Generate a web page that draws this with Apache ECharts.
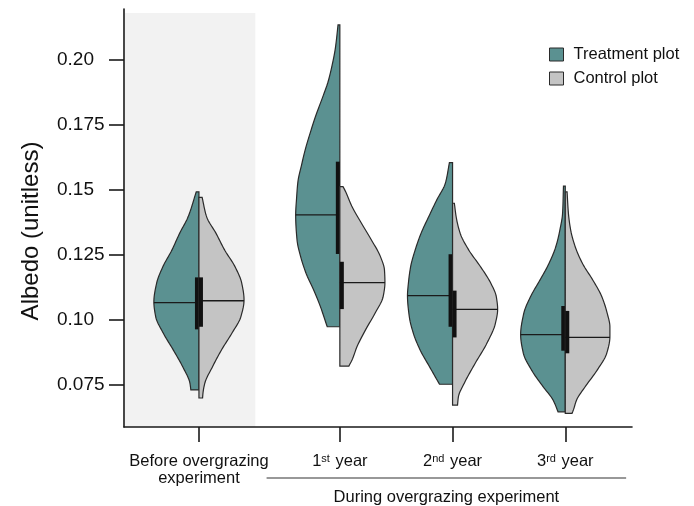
<!DOCTYPE html>
<html>
<head>
<meta charset="utf-8">
<script src="https://cdn.jsdelivr.net/npm/echarts@6/dist/echarts.min.js"></script>
<style>
html,body{margin:0;padding:0;background:#fff;}
#chart{width:694px;height:506px;}
</style>
</head>
<body>
<div id="chart"></div>
<script>
// ---------- data ----------
const categories = ['Before overgrazing\nexperiment', '1st year', '2nd year', '3rd year'];
const categoryPos = [0, 1.25, 2.25, 3.25];
const seriesNames = ['Treatment plot', 'Control plot'];
const yTicks = [0.075, 0.10, 0.125, 0.15, 0.175, 0.20];

// density profiles (albedo value, relative half-width)
const treatmentY = [
  [0.1493, 0.1397, 0.1333, 0.1269, 0.1205, 0.1141, 0.1070, 0.1013, 0.0949, 0.0885, 0.0820, 0.0757, 0.0731],
  [0.2135, 0.2045, 0.1981, 0.1917, 0.1853, 0.1788, 0.1724, 0.1660, 0.1596, 0.1532, 0.1468, 0.1404, 0.1308, 0.1244, 0.1180, 0.1115, 0.1051, 0.0974],
  [0.1605, 0.1526, 0.1462, 0.1397, 0.1333, 0.1269, 0.1205, 0.1141, 0.1094, 0.1013, 0.0949, 0.0885, 0.0820, 0.0753],
  [0.1515, 0.1410, 0.1346, 0.1282, 0.1218, 0.1154, 0.1090, 0.1026, 0.0944, 0.0872, 0.0808, 0.0743, 0.0692, 0.0647]
];
const treatmentDensity = [
  [0.06, 0.24, 0.43, 0.60, 0.80, 0.94, 1.00, 0.96, 0.79, 0.57, 0.36, 0.20, 0.18],
  [0.04, 0.10, 0.17, 0.26, 0.39, 0.53, 0.65, 0.76, 0.85, 0.93, 0.96, 0.98, 0.95, 0.87, 0.75, 0.58, 0.43, 0.28],
  [0.07, 0.16, 0.35, 0.53, 0.70, 0.83, 0.93, 0.98, 1.00, 0.96, 0.87, 0.72, 0.51, 0.29],
  [0.04, 0.06, 0.12, 0.21, 0.36, 0.56, 0.77, 0.92, 0.99, 0.93, 0.75, 0.49, 0.27, 0.16]
];
const controlY = [
  [0.1472, 0.1397, 0.1333, 0.1269, 0.1205, 0.1141, 0.1077, 0.1013, 0.0949, 0.0885, 0.0820, 0.0757, 0.0720, 0.0700],
  [0.1513, 0.1500, 0.1436, 0.1372, 0.1308, 0.1244, 0.1192, 0.1144, 0.1090, 0.1026, 0.0962, 0.0897, 0.0846, 0.0823],
  [0.1449, 0.1397, 0.1333, 0.1269, 0.1205, 0.1141, 0.1090, 0.1041, 0.0987, 0.0910, 0.0833, 0.0757, 0.0705, 0.0673],
  [0.1493, 0.1410, 0.1346, 0.1282, 0.1218, 0.1154, 0.1090, 0.1026, 0.0974, 0.0936, 0.0872, 0.0808, 0.0743, 0.0692, 0.0654, 0.0641]
];
const controlDensity = [
  [0.07, 0.17, 0.38, 0.57, 0.80, 0.95, 1.00, 0.93, 0.73, 0.50, 0.30, 0.13, 0.09, 0.08],
  [0.07, 0.11, 0.27, 0.48, 0.70, 0.90, 0.99, 1.00, 0.96, 0.78, 0.57, 0.38, 0.27, 0.20],
  [0.04, 0.08, 0.17, 0.36, 0.62, 0.85, 0.97, 1.00, 0.95, 0.76, 0.50, 0.26, 0.13, 0.11],
  [0.04, 0.07, 0.12, 0.22, 0.38, 0.61, 0.81, 0.93, 0.99, 0.99, 0.92, 0.71, 0.44, 0.25, 0.18, 0.15]
];
const treatmentMedian = [0.1067, 0.1404, 0.1094, 0.0944];
const controlMedian   = [0.1074, 0.1144, 0.1041, 0.0933];
const treatmentQ1 = [0.0964, 0.1254, 0.0974, 0.0882];
const treatmentQ3 = [0.1164, 0.1609, 0.1253, 0.1054];
const controlQ1   = [0.0974, 0.1042, 0.0933, 0.0872];
const controlQ3   = [0.1164, 0.1224, 0.1113, 0.1035];

// ---------- layout / style ----------
const FONT = '"Liberation Sans", Arial, Helvetica, sans-serif';
const xMin = -0.665, xMax = 3.842;
const yMin = 0.05885, yMax = 0.21962;
const halfWidth = 0.40;     // x-units for relative density 1
const boxPx = 4;
const tealColor = '#5b9191';
const greyColor = '#c4c4c4';
const outline = '#2a2a2a';

// monotone cubic (Fritsch-Carlson) evaluation of w(y) for smooth drawing
function monotoneSampler(xs, ys) {
  const n = xs.length;
  const d = [], m = new Array(n);
  for (let i = 0; i < n - 1; i++) d.push((ys[i + 1] - ys[i]) / (xs[i + 1] - xs[i]));
  m[0] = d[0]; m[n - 1] = d[n - 2];
  for (let i = 1; i < n - 1; i++) {
    if (d[i - 1] * d[i] <= 0) m[i] = 0;
    else {
      const h0 = xs[i] - xs[i - 1], h1 = xs[i + 1] - xs[i];
      const w1 = 2 * h1 + h0, w2 = h1 + 2 * h0;
      m[i] = (w1 + w2) / (w1 / d[i - 1] + w2 / d[i]);
    }
  }
  return function (x) {
    let k = 0;
    while (k < n - 2 && x > xs[k + 1]) k++;
    const h = xs[k + 1] - xs[k];
    const t = Math.min(Math.max((x - xs[k]) / h, 0), 1);
    const t2 = t * t, t3 = t2 * t;
    return (2 * t3 - 3 * t2 + 1) * ys[k] + (t3 - 2 * t2 + t) * h * m[k] +
           (-2 * t3 + 3 * t2) * ys[k + 1] + (t3 - t2) * h * m[k + 1];
  };
}

function makeRenderer(side, Ys, Ds, med, q1, q3, color) {
  return function (params, api) {
    const i = api.value(2);
    const cx = categoryPos[i];
    const Y = Ys[i].slice().reverse(), D = Ds[i].slice().reverse();
    const f = monotoneSampler(Y, D);
    const yLo = Y[0], yHi = Y[Y.length - 1];
    const N = 120;
    const curve = [];
    for (let s = N; s >= 0; s--) {
      const v = yLo + (yHi - yLo) * s / N;
      curve.push(api.coord([cx + side * Math.max(f(v), 0) * halfWidth, v]));
    }
    const top = api.coord([cx, yHi]);
    const bot = api.coord([cx, yLo]);
    const poly = [top].concat(curve).concat([bot]);
    const mw = f(med[i]);
    const m0 = api.coord([cx, med[i]]);
    const m1 = api.coord([cx + side * mw * halfWidth, med[i]]);
    const b3 = api.coord([cx, q3[i]]);
    const b1 = api.coord([cx, q1[i]]);
    const bx = side > 0 ? b3[0] : b3[0] - boxPx;
    return {
      type: 'group',
      children: [
        { type: 'polygon', shape: { points: poly }, style: { fill: color, stroke: outline, lineWidth: 1.2 } },
        { type: 'line', shape: { x1: m0[0], y1: m0[1], x2: m1[0], y2: m1[1] }, style: { stroke: '#1a1a1a', lineWidth: 1.3 } },
        { type: 'rect', shape: { x: bx, y: b3[1], width: boxPx, height: b1[1] - b3[1] }, style: { fill: '#111' } }
      ]
    };
  };
}

const chart = echarts.init(document.getElementById('chart'), null, { renderer: 'canvas' });

const supRich = {
  n: { fontSize: 16.5, fontFamily: FONT, color: '#111', lineHeight: 17, verticalAlign: 'bottom' },
  s: { fontSize: 11, fontFamily: FONT, color: '#111', lineHeight: 17, verticalAlign: 'top', padding: [0, 1, 6, 0] }
};

const option = {
  animation: false,
  backgroundColor: '#ffffff',
  grid: { left: 124, right: 62, top: 9, bottom: 79, containLabel: false },
  legend: {
    orient: 'vertical', left: 544, top: 41,
    itemWidth: 14, itemHeight: 13, itemGap: 7,
    selectedMode: false,
    textStyle: { fontSize: 16.5, fontFamily: FONT, color: '#111', lineHeight: 16, padding: [0, 0, 0, 5] },
    data: [
      { name: seriesNames[0], icon: 'rect', itemStyle: { color: tealColor, borderColor: outline, borderWidth: 1 } },
      { name: seriesNames[1], icon: 'rect', itemStyle: { color: greyColor, borderColor: outline, borderWidth: 1 } }
    ]
  },
  xAxis: {
    type: 'value', min: xMin, max: xMax,
    splitLine: { show: false },
    axisLine: { show: true, onZero: false, lineStyle: { color: '#1a1a1a', width: 1.6 } },
    axisTick: { show: true, customValues: categoryPos, length: 15, lineStyle: { color: '#1a1a1a', width: 1.6 } },
    axisLabel: {
      customValues: categoryPos, margin: 26, color: '#111', fontSize: 16.5, fontFamily: FONT, lineHeight: 17,
      formatter: function (v) {
        let idx = -1;
        categoryPos.forEach((p, k) => { if (Math.abs(p - v) < 1e-6) idx = k; });
        if (idx < 0) return '';
        const lab = categories[idx];
        const m = lab.match(/^(\d)(st|nd|rd|th) (.*)$/);
        if (m) return '{n|' + m[1] + '}{s|' + m[2] + '}{n| ' + m[3] + '}';
        return lab;
      },
      rich: supRich
    }
  },
  yAxis: {
    type: 'value', min: yMin, max: yMax,
    name: 'Albedo (unitless)', nameLocation: 'middle', nameGap: 81,
    nameTextStyle: { fontSize: 24, fontFamily: FONT, color: '#111', padding: [0, 26, 0, 0] },
    splitLine: { show: false },
    axisLine: { show: true, onZero: false, lineStyle: { color: '#1a1a1a', width: 1.6 } },
    axisTick: { show: true, customValues: yTicks, length: 15, lineStyle: { color: '#1a1a1a', width: 1.6 } },
    axisLabel: {
      customValues: yTicks, margin: 67, align: 'left', color: '#111', fontSize: 19, fontFamily: FONT,
      formatter: function (v) { return v.toFixed(3).replace(/0$/, ''); }
    }
  },
  series: [
    {
      name: 'background', type: 'custom', z: 0, silent: true,
      data: [[0, 0.1, 0]],
      renderItem: function (params, api) {
        const a = api.coord([xMin, yMin]);
        const b = api.coord([0.5, 0.2181]);
        const l0 = api.coord([0.6, yMin]);
        const l1 = api.coord([3.79, yMin]);
        const lineY = a[1] + 51;
        return {
          type: 'group',
          children: [
            { type: 'rect', shape: { x: a[0] + 1, y: b[1], width: b[0] - a[0] - 1, height: a[1] - b[1] }, style: { fill: '#f2f2f2' } },
            { type: 'line', shape: { x1: l0[0], y1: lineY, x2: l1[0], y2: lineY }, style: { stroke: '#333', lineWidth: 1.2 } },
            { type: 'text', x: (l0[0] + l1[0]) / 2, y: lineY + 19,
              style: { text: 'During overgrazing experiment', fontSize: 16.5, fontFamily: FONT, fill: '#111', align: 'center', verticalAlign: 'middle' } }
          ]
        };
      }
    },
    {
      name: seriesNames[0], type: 'custom', z: 2,
      itemStyle: { color: tealColor, borderColor: outline, borderWidth: 1 },
      data: categoryPos.map((p, i) => [p, treatmentMedian[i], i]),
      renderItem: makeRenderer(-1, treatmentY, treatmentDensity, treatmentMedian, treatmentQ1, treatmentQ3, tealColor)
    },
    {
      name: seriesNames[1], type: 'custom', z: 3,
      itemStyle: { color: greyColor, borderColor: outline, borderWidth: 1 },
      data: categoryPos.map((p, i) => [p, controlMedian[i], i]),
      renderItem: makeRenderer(1, controlY, controlDensity, controlMedian, controlQ1, controlQ3, greyColor)
    }
  ]
};
chart.setOption(option);
</script>
</body>
</html>
